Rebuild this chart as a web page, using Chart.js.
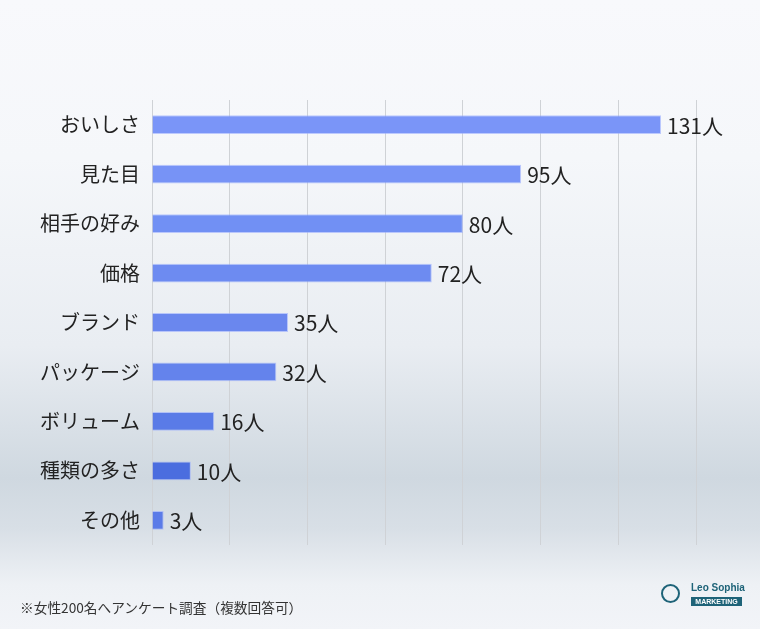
<!DOCTYPE html>
<html lang="ja">
<head>
<meta charset="utf-8">
<script src="https://cdn.jsdelivr.net/npm/chart.js@4.4.0/dist/chart.umd.min.js"></script>
<style>
  html, body { margin: 0; padding: 0; }
  body {
    width: 760px; height: 629px; overflow: hidden; position: relative;
    background: linear-gradient(180deg, #f8f9fc 0%, #f5f7fa 25%, #e9edf2 55%, #cfd8e0 76%, #d8dfe6 84%, #eef1f5 93%, #f2f4f8 100%);
    font-family: "Noto Sans CJK JP", "Noto Sans", sans-serif;
  }
  #wrap { position: absolute; left: 0; top: 0; width: 760px; height: 629px; }
  .note { position: absolute; left: 20px; top: 597px; font-size: 13.7px; color: #333; }
  .logo { position: absolute; left: 660px; top: 582px; }
  .logo .ring { position: absolute; left: 1px; top: 2px; width: 15px; height: 15px; border: 2px solid #1e6378; border-radius: 50%; }
  .logo .name { position: absolute; left: 31px; top: 0px; font: bold 10px "Liberation Sans", sans-serif; color: #1e6378; white-space: nowrap; }
  .logo .mk { position: absolute; left: 31px; top: 15px; width: 51px; height: 9px; background: #1e6378; color: #fff; font: bold 7px "Liberation Sans", sans-serif; text-align: center; line-height: 9px; }
</style>
</head>
<body>
<div id="wrap"><canvas id="chart" width="760" height="629"></canvas></div>
<div class="note">※女性200名へアンケート調査（複数回答可）</div>
<div class="logo"><div class="ring"></div><div class="name">Leo Sophia</div><div class="mk">MARKETING</div></div>
<script>
// data
var categories = ['おいしさ', '見た目', '相手の好み', '価格', 'ブランド', 'パッケージ', 'ボリューム', '種類の多さ', 'その他'];
var counts = [131, 95, 80, 72, 35, 32, 16, 10, 3];
var unit = '人';
var barColors = ['#7a95f8', '#7793f6', '#7190f4', '#6d8bf1', '#6a87ee', '#6483ec', '#5a7be7', '#4b6ddf', '#5b7be8'];

// value labels next to each bar
var valueLabels = {
    id: 'valueLabels',
    afterDatasetsDraw: function (chart) {
        var ctx = chart.ctx;
        var meta = chart.getDatasetMeta(0);
        ctx.save();
        ctx.font = '21px "Noto Sans CJK JP", "Noto Sans", sans-serif';
        ctx.fillStyle = '#222';
        ctx.textAlign = 'left';
        ctx.textBaseline = 'middle';
        meta.data.forEach(function (bar, i) {
            ctx.fillText(counts[i] + unit, bar.x + 6, bar.y + 1);
        });
        ctx.restore();
    }
};

var ctx = document.getElementById('chart').getContext('2d');
new Chart(ctx, {
    type: 'bar',
    data: {
        labels: categories,
        datasets: [{
            data: counts,
            backgroundColor: barColors,
            borderColor: 'rgba(150, 170, 255, 0.6)',
            borderWidth: 1,
            barPercentage: 0.38,
            categoryPercentage: 1
        }]
    },
    plugins: [valueLabels],
    options: {
        indexAxis: 'y',
        responsive: false,
        animation: false,
        layout: { padding: { top: 100, bottom: 84, right: 64, left: 0 } },
        plugins: { legend: { display: false }, tooltip: { enabled: false } },
        scales: {
            x: {
                min: 0,
                max: 140,
                ticks: { stepSize: 20, display: false },
                grid: { color: '#cfd2d6', lineWidth: 1, drawTicks: false },
                border: { display: false }
            },
            y: {
                afterFit: function (scale) { scale.width = 152; },
                ticks: {
                    padding: 4,
                    color: '#222',
                    font: { size: 20, family: '"Noto Sans CJK JP", "Noto Sans", sans-serif' }
                },
                grid: { display: false },
                border: { display: false }
            }
        }
    }
});
</script>
</body>
</html>
